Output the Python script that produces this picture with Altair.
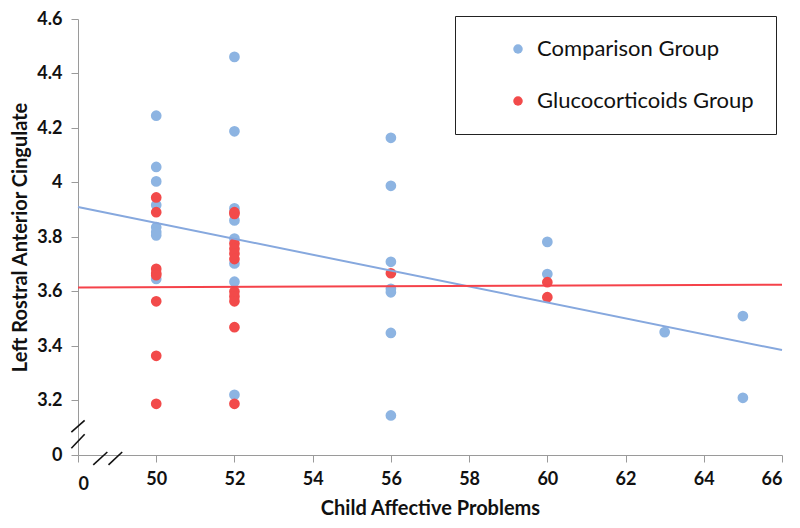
import altair as alt
import pandas as pd

# ---- data ----
comp_x = [50, 50, 50, 50, 50, 50, 50, 50,
          52, 52, 52, 52, 52, 52, 52, 52,
          56, 56, 56, 56, 56, 56, 56,
          60, 60, 63, 65, 65]
comp_y = [4.245, 4.057, 4.004, 3.917, 3.836, 3.818, 3.806, 3.646,
          4.461, 4.188, 3.905, 3.861, 3.794, 3.703, 3.636, 3.221,
          4.164, 3.988, 3.709, 3.610, 3.597, 3.448, 3.145,
          3.782, 3.664, 3.451, 3.510, 3.210]

gluc_x = [50, 50, 50, 50, 50, 50, 50, 50,
          52, 52, 52, 52, 52, 52, 52, 52, 52, 52, 52,
          56, 60, 60]
gluc_y = [3.945, 3.891, 3.683, 3.667, 3.660, 3.564, 3.364, 3.188,
          3.891, 3.885, 3.776, 3.757, 3.739, 3.719, 3.600, 3.582, 3.564, 3.469, 3.188,
          3.667, 3.634, 3.579]

groups = ["Comparison Group", "Glucocorticoids Group"]
point_colors = ["#8DB4E2", "#F24A4A"]
line_colors = ["#86A8DE", "#F5424A"]

trend_x = [48, 66]
comp_trend = [3.91, 3.385]
gluc_trend = [3.615, 3.625]

x_ticks = [48, 50, 52, 54, 56, 58, 60, 62, 64, 66]
y_ticks = [3.0, 3.2, 3.4, 3.6, 3.8, 4.0, 4.2, 4.4, 4.6]

# axis-break slashes (data units)
brk_x = [47.83, 47.83, 48.39, 48.78]
brk_y = [3.084, 3.025, 2.964, 2.964]
brk_x2 = [48.17, 48.17, 48.75, 49.13]
brk_y2 = [3.127, 3.076, 3.011, 3.011]

pts = pd.DataFrame({
    "x": comp_x + gluc_x,
    "y": comp_y + gluc_y,
    "group": [groups[0]] * len(comp_x) + [groups[1]] * len(gluc_x),
})
lines = pd.DataFrame({
    "x": trend_x + trend_x,
    "y": comp_trend + gluc_trend,
    "group": [groups[0]] * 2 + [groups[1]] * 2,
})
brk = pd.DataFrame({"x": brk_x, "y": brk_y, "x2": brk_x2, "y2": brk_y2})

xscale = alt.Scale(domain=[48, 66], nice=False, zero=False)
yscale = alt.Scale(domain=[3.0, 4.6], nice=False, zero=False)

xaxis = alt.Axis(values=x_ticks, title="Child Affective Problems",
                 labelExpr="datum.value == 48 ? '0' : datum.label",
                 labelPadding={"condition": {"test": "datum.value == 48", "value": 13}, "value": 8},
                 grid=False, titlePadding=5)
yaxis = alt.Axis(values=y_ticks, title="Left Rostral Anterior Cingulate",
                 labelExpr="datum.value < 3.1 ? '0' : format(datum.value, '.1~f')",
                 grid=False, titlePadding=6, labelPadding=9)

points = alt.Chart(pts).mark_circle(size=115, opacity=1).encode(
    x=alt.X("x:Q", scale=xscale, axis=xaxis),
    y=alt.Y("y:Q", scale=yscale, axis=yaxis),
    color=alt.Color("group:N", scale=alt.Scale(domain=groups, range=point_colors),
                    legend=alt.Legend(title=None,
                                      orient="none", legendX=377, legendY=-3,
                                      strokeColor="#222", fillColor="white",
                                      padding=22, symbolOffset=30, rowPadding=30,
                                      labelFontSize=22, labelFont="Lato",
                                      labelColor="#111", symbolSize=90, labelLimit=400,
                                      symbolType="circle", labelOffset=8)),
    order=alt.Order("group:N"),
)

trend = alt.Chart(lines).mark_line(strokeWidth=2).encode(
    x=alt.X("x:Q", scale=xscale),
    y=alt.Y("y:Q", scale=yscale),
    color=alt.Color("group:N", scale=alt.Scale(domain=groups, range=line_colors), legend=None),
    detail="group:N",
)

breaks = alt.Chart(brk).mark_rule(color="#111", strokeWidth=1.6).encode(
    x="x:Q", y="y:Q", x2="x2:Q", y2="y2:Q"
)

chart = alt.layer(points, trend, breaks).resolve_scale(color="independent").properties(
    width=704, height=436,
    padding={"left": 2, "top": 2, "right": 0, "bottom": 0},
).configure_view(stroke=None).configure_axis(
    domainColor="#9a9a9a", tickColor="#9a9a9a", tickSize=7,
    labelFont="Lato", labelFontWeight="bold", labelFontSize=18, labelColor="#111",
    titleFont="Lato", titleFontWeight="bold", titleFontSize=20, titleColor="#111",
)

chart.save("out.html", embed_options={"renderer": "svg", "actions": False})
